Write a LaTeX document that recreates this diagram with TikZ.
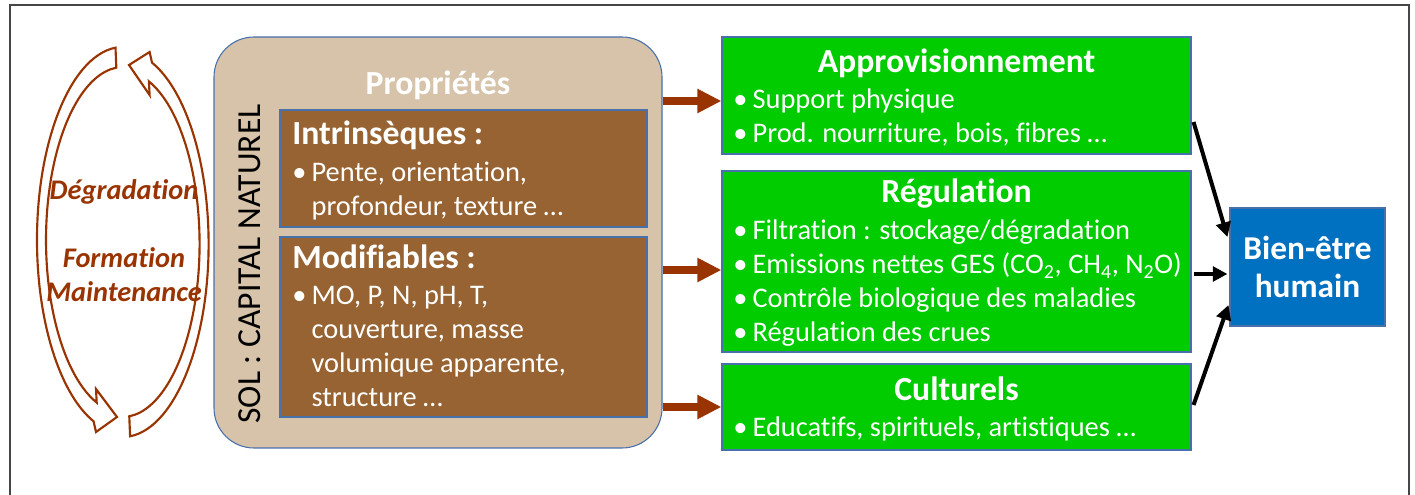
\documentclass[tikz,border=0pt]{standalone}
\usepackage{fontspec}
\setmainfont{Carlito}[Ligatures=NoCommon]
\usepackage{xcolor}
\usetikzlibrary{positioning,calc,arrows.meta}

\definecolor{sable}{RGB}{214,195,170}
\definecolor{brun}{RGB}{151,99,50}
\definecolor{vert}{RGB}{0,204,0}
\definecolor{bleu}{RGB}{0,112,192}
\definecolor{rouille}{RGB}{153,51,0}
\definecolor{bord}{RGB}{72,112,170}
\definecolor{cadre}{RGB}{70,70,70}

\newcommand{\puce}{\makebox[14.5pt][l]{\textbullet}}
\newcommand{\retrait}{\hspace*{14.5pt}}
\newcommand{\bloc}[2][l]{\begin{tabular}[t]{@{}#1@{}}#2\end{tabular}}

\begin{document}
\begin{tikzpicture}[x=0.75pt,y=0.75pt,yscale=-1,xscale=1,
  boite/.style={draw=bord,line width=0.8pt,inner sep=0pt},
  blanc/.style={text=white,inner sep=0pt},
  corps/.style={blanc,anchor=base west,font=\fontsize{21.3}{25.5}\selectfont},
  titre/.style={blanc,anchor=base,font=\fontsize{25.3}{30}\selectfont\bfseries},
  grandtitre/.style={blanc,font=\fontsize{25.3}{30}\selectfont\bfseries},
  fleche/.style={rouille,line width=6pt,-{Triangle[length=18pt,width=17pt]}},
  lien/.style={black,line width=3pt,-{Triangle[length=11pt,width=11pt]}},
  boucle/.style={draw=rouille,line width=1.6pt,fill=white,line join=miter}]
\useasboundingbox (0,0) rectangle (1415,495);

% cadre
\draw[cadre,line width=1.3pt] (10,500) |- (1409,5) -- (1409,500);

% cycle degradation / formation
\draw[boucle] (115.5,47.7) arc[start angle=265,end angle=110,x radius=86,y radius=193]
  -- (96,432) -- (117,417) -- (96,389) -- (96.7,402.6)
  arc[start angle=110,end angle=265,x radius=77,y radius=173] -- cycle;
\draw[boucle] (130.1,436.3) arc[start angle=85,end angle=-70,x radius=86,y radius=193]
  -- (149.6,52) -- (129,65) -- (149.6,95) -- (148.9,81.4)
  arc[start angle=-70,end angle=85,x radius=77,y radius=173] -- cycle;
\node[text=rouille,anchor=base,inner sep=0pt,font=\fontsize{21.3}{25.5}\selectfont\bfseries\itshape] (degr) at (124,200) {Dégradation};
\node[text=rouille,anchor=base,inner sep=0pt,font=\fontsize{21.3}{25.5}\selectfont\bfseries\itshape] (form) at (124,268) {\bloc[c]{Formation\\Maintenance}};

% sol : capital naturel
\node[boite,fill=sable,rounded corners=30pt,minimum width=336pt,minimum height=308.25pt] (sol) at (438,242.5) {};
\node[inner sep=0pt,rotate=90,font=\fontsize{25.2}{30}\selectfont] (capital) at (250,264) {SOL : CAPITAL NATUREL};
\node[grandtitre,anchor=base] (prop) at (438,95) {Propriétés};

\node[boite,fill=brun,minimum width=275.25pt,minimum height=87.75pt] (intr) at (463.5,168.5) {};
\node[grandtitre,anchor=base west] (intrt) at (292,145) {Intrinsèques :};
\node[corps] (intrl) at (292,182) {\bloc{\puce Pente, orientation,\\ \retrait profondeur, texture …}};

\node[boite,fill=brun,minimum width=275.25pt,minimum height=135pt] (modif) at (463.5,327) {};
\node[grandtitre,anchor=base west] (modift) at (292,269) {Modifiables :};
\node[corps] (modifl) at (292,305) {\bloc{\puce MO, P, N, pH, T,\\ \retrait couverture, masse\\ \retrait volumique apparente,\\ \retrait structure …}};

% services
\node[boite,fill=vert,minimum width=351.75pt,minimum height=87.75pt] (appro) at (956.5,95.5) {};
\node[titre] (approt) at (956.5,73) {Approvisionnement};
\node[corps] (approl) at (733,109) {\bloc{\puce Support physique\\ \puce Prod. nourriture, bois, fibres …}};

\node[boite,fill=vert,minimum width=351.75pt,minimum height=135.75pt] (reg) at (956.5,261.5) {};
\node[titre] (regt) at (956.5,203) {Régulation};
\node[corps] (regl) at (733,240) {\bloc{\puce Filtration : stockage/dégradation\\ \puce Emissions nettes GES (CO\textsubscript{2}, CH\textsubscript{4}, N\textsubscript{2}O)\\ \puce Contrôle biologique des maladies\\ \puce Régulation des crues}};

\node[boite,fill=vert,minimum width=351.75pt,minimum height=64.5pt] (cult) at (956.5,407) {};
\node[titre] (cultt) at (956.5,401) {Culturels};
\node[corps] (cultl) at (733,437) {\puce Educatifs, spirituels, artistiques …};

\node[boite,fill=bleu,minimum width=116.25pt,minimum height=88.5pt,text=white,align=center,font=\fontsize{25}{29}\selectfont\bfseries] (bien) at (1307.5,267) {Bien-être\\humain};

% fleches
\coordinate (f1) at ($(appro.west)+(0,5.5)$);
\coordinate (f2) at ($(reg.west)+(0,8.5)$);
\coordinate (f3) at (cult.west);
\draw[fleche] (sol.east |- f1) -- (f1);
\draw[fleche] (sol.east |- f2) -- (f2);
\draw[fleche] (sol.east |- f3) -- (f3);

\draw[lien] ($(appro.east)+(2,26.5)$) -- ($(bien.west)+(-2,-30)$);
\draw[lien] ($(reg.east)+(2,12.5)$) -- ($(bien.west)+(-2,7)$);
\draw[lien] ($(cult.east)+(2,-2)$) -- ($(bien.west)+(-1,38)$);

\end{tikzpicture}
\end{document}
